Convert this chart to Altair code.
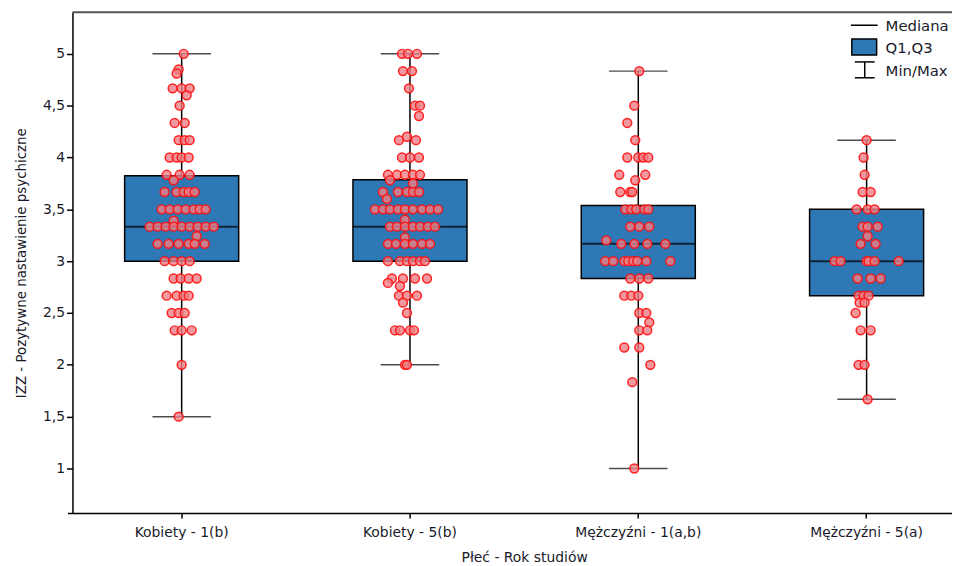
import altair as alt
import pandas as pd

categories = ["Kobiety - 1(b)", "Kobiety - 5(b)", "Mężczyźni - 1(a,b)", "Mężczyźni - 5(a)"]
stat_min = [1.5, 2.0, 1.0, 1.667]
stat_q1 = [3.0, 3.0, 2.833, 2.667]
stat_median = [3.333, 3.333, 3.167, 3.0]
stat_q3 = [3.823, 3.785, 3.536, 3.5]
stat_max = [5.0, 5.0, 4.833, 4.167]

# (value, horizontal jitter offsets in px)
points_k1 = [
    (5.0, [2]), (4.85, [-3]), (4.81, [-5]), (4.667, [-9, 0, 8]), (4.6, [5]),
    (4.5, [-2]), (4.333, [-7, 3]), (4.167, [-3, 3, 8]), (4.0, [-12, -5, 0, 7]),
    (3.833, [-15, -2, 8]), (3.78, [-8]), (3.667, [-17, -5, 2, 7, 13]),
    (3.5, [-20, -12, -4, 4, 12, 18, 24]), (3.39, [-8]),
    (3.333, [-32, -24, -16, -8, 0, 8, 16, 24, 32]), (3.24, [15]),
    (3.167, [-24, -13, -3, 7, 13, 23]), (3.0, [-17, -8, 0, 8]),
    (2.833, [-8, -1, 7, 15]), (2.667, [-15, -5, 2, 7]), (2.5, [-10, -3, 3]),
    (2.333, [-7, 0, 10]), (2.0, [0]), (1.5, [-3]),
]
points_k5 = [
    (5.0, [-8, -2, 7]), (4.833, [-7, 2]), (4.667, [-1]), (4.5, [5, 10]), (4.4, [9]),
    (4.167, [-11, 6]), (4.2, [-3]), (4.0, [-8, 0, 9]),
    (3.833, [-22, -13, -5, 3, 10]), (3.78, [-20]), (3.75, [3]),
    (3.667, [-27, -12, -3, 3, 9]), (3.6, [-23]),
    (3.5, [-35, -27, -20, -12, -5, 3, 12, 20, 28]), (3.4, [-5]),
    (3.333, [-20, -13, -5, 3, 10, 18, 25]), (3.23, [-5]),
    (3.167, [-22, -14, -5, 3, 12, 20]), (3.0, [-22, -10, -3, 3, 10, 15]),
    (2.833, [-18, -7, 5, 17]), (2.79, [-22]), (2.76, [-10]),
    (2.667, [-11, -3, 7]), (2.6, [-7]), (2.5, [-3]), (2.333, [-15, -10, 0, 4]),
    (2.0, [-5, -3]),
]
points_m1 = [
    (4.833, [1]), (4.5, [-4]), (4.333, [-11]), (4.167, [-3]), (4.0, [-11, 0, 5, 10]),
    (3.833, [-19, 7]), (3.78, [-3]), (3.667, [-18, -8, -6]), (3.5, [-13, -7, -2, 6, 10]),
    (3.333, [-8, 1, 11]), (3.2, [-32]), (3.167, [-17, -4, 9, 27]),
    (3.0, [-33, -25, -14, -10, -5, -1, 8, 32]), (2.833, [-8, 1, 10]),
    (2.667, [-14, -7, 0]), (2.5, [1, 8]), (2.41, [11]), (2.333, [1, 9]),
    (2.167, [-14, 1]), (2.0, [12]), (1.833, [-6]), (1.0, [-4]),
]
points_m5 = [
    (4.167, [0]), (4.0, [-3]), (3.833, [-2]), (3.667, [-4, 4]), (3.5, [-10, 1, 8]),
    (3.333, [-4, 1, 11]), (3.24, [1]), (3.167, [-6, 9]), (3.0, [-32, -26, 0, 2, 8, 32]),
    (2.833, [-9, 4, 14]), (2.667, [-8, -3, 2]), (2.6, [-7, -2]), (2.5, [-11]),
    (2.333, [-6, 4]), (2.0, [-8, -2]), (1.667, [1]),
]
legend_labels = ["Mediana", "Q1,Q3", "Min/Max"]

stats = pd.DataFrame({
    "group": categories, "mn": stat_min, "q1": stat_q1, "med": stat_median,
    "q3": stat_q3, "mx": stat_max,
})
rows = []
for cat, pts in zip(categories, [points_k1, points_k5, points_m1, points_m5]):
    for v, offs in pts:
        for o in offs:
            rows.append({"group": cat, "value": v, "off": o})
pts_df = pd.DataFrame(rows)

W, H = 879, 505
FONT = "DejaVu Sans"
BLUE = "#2E78B5"

x_scale = alt.Scale(domain=categories, range=[-5, 916], paddingInner=0, paddingOuter=0)
x_axis = alt.Axis(title="Płeć - Rok studiów", labelAngle=0, tickSize=5, labelPadding=8,
                  titlePadding=11, labelFontSize=14, titleFontSize=14)
y_scale = alt.Scale(domain=[0.57, 5.4], nice=False, zero=False)
y_axis = alt.Axis(title="IZZ - Pozytywne nastawienie psychiczne",
                  values=[1, 1.5, 2, 2.5, 3, 3.5, 4, 4.5, 5],
                  labelExpr="replace(format(datum.value, '.1~f'), '.', ',')",
                  tickSize=6, labelPadding=2, titlePadding=14, grid=False,
                  labelFontSize=14, titleFontSize=13.5)

X = alt.X("group:N", sort=categories, scale=x_scale, axis=x_axis)
base = alt.Chart(stats)

whisker = base.mark_rule(color="black", strokeWidth=1.5).encode(
    x=X, y=alt.Y("mn:Q", scale=y_scale, axis=y_axis), y2="mx:Q")
box = base.mark_bar(fill=BLUE, stroke="black", strokeWidth=1.5, size=115).encode(
    x=X, y=alt.Y("q1:Q", scale=y_scale), y2="q3:Q")
med = base.mark_tick(color="black", thickness=2, size=115).encode(
    x=X, y=alt.Y("med:Q", scale=y_scale))
cap_lo = base.mark_tick(color="black", thickness=1.5, size=59).encode(
    x=X, y=alt.Y("mn:Q", scale=y_scale))
cap_hi = base.mark_tick(color="black", thickness=1.5, size=59).encode(
    x=X, y=alt.Y("mx:Q", scale=y_scale))

points = alt.Chart(pts_df).mark_point(
    shape="circle", filled=True, size=80, fill="#EE7F86", fillOpacity=0.8,
    stroke="#FF1010", strokeWidth=1.5, strokeOpacity=0.9).encode(
    x=X,
    xOffset=alt.XOffset("off:Q", scale=alt.Scale(domain=[-114, 114])),
    y=alt.Y("value:Q", scale=y_scale),
)

one = pd.DataFrame({"a": [0]})
frame_top = alt.Chart(one).mark_rule(color="#555555", strokeWidth=2).encode(
    x=alt.value(0), x2=alt.value(W + 8), y=alt.value(0))

# legend (drawn manually)
leg_texts = [
    alt.Chart(one).mark_text(align="left", baseline="middle", font=FONT, fontSize=15,
                             color="#1a1a2a", text=lab).encode(x=alt.value(820), y=alt.value(yy))
    for lab, yy in zip(legend_labels, [14, 36, 59])
]
leg_med = alt.Chart(one).mark_rule(color="black", strokeWidth=1.5).encode(
    x=alt.value(785), x2=alt.value(812), y=alt.value(13))
leg_box = alt.Chart(one).mark_rect(fill=BLUE, stroke="black", strokeWidth=1.5).encode(
    x=alt.value(786), x2=alt.value(811), y=alt.value(27), y2=alt.value(43))
leg_i = alt.Chart(one).mark_rule(color="black", strokeWidth=1.5).encode(
    x=alt.value(799), y=alt.value(50), y2=alt.value(66))
leg_i_top = alt.Chart(one).mark_rule(color="black", strokeWidth=1.5).encode(
    x=alt.value(789), x2=alt.value(809), y=alt.value(50))
leg_i_bot = alt.Chart(one).mark_rule(color="black", strokeWidth=1.5).encode(
    x=alt.value(789), x2=alt.value(809), y=alt.value(66))

chart = alt.layer(
    frame_top, whisker, box, med, cap_lo, cap_hi, points,
    leg_med, leg_box, leg_i, leg_i_top, leg_i_bot, *leg_texts,
).properties(
    width=W, height=H,
    autosize=alt.AutoSizeParams(type="none"),
    padding={"left": 65, "top": 2, "right": 8, "bottom": 54},
).configure_view(stroke=None).configure_axis(
    labelFont=FONT, titleFont=FONT, labelColor="#1a1a2a", titleColor="#1a1a2a",
    titleFontWeight="normal", domainColor="black", domainWidth=1.5,
    tickColor="black", tickWidth=1.5,
)

chart.save("out.html", embed_options={"renderer": "svg", "actions": False})
